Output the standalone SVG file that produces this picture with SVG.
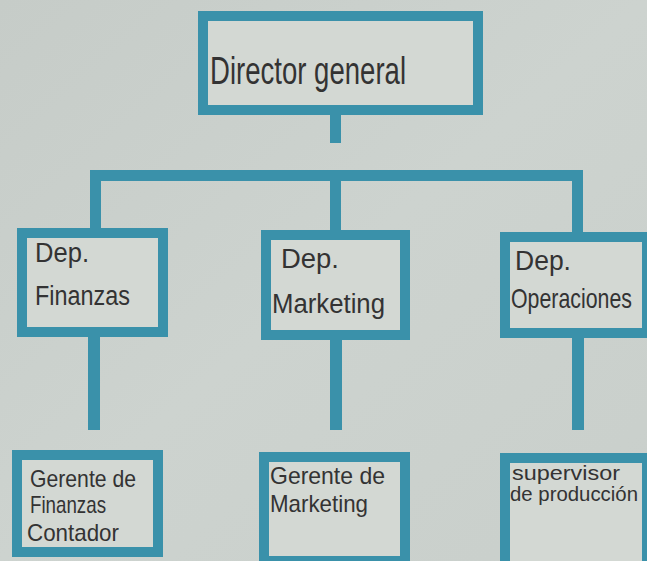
<svg xmlns="http://www.w3.org/2000/svg" width="647" height="561" viewBox="0 0 647 561">
<defs>
<linearGradient id="paper" x1="0" y1="0" x2="1" y2="1">
<stop offset="0" stop-color="#c6ccc8"/>
<stop offset="0.5" stop-color="#cdd3cf"/>
<stop offset="1" stop-color="#c9cfcb"/>
</linearGradient>
</defs>
<style>
.box{fill:#d3d8d3;stroke:#3a91aa;stroke-width:10}
.line{fill:#3a91aa}
text{font-family:"Liberation Sans Narrow","Liberation Sans",Arial,sans-serif;fill:#333;font-weight:normal}
.big{font-size:38px}
.mid{font-size:27px}
.sm{font-size:24px}
.xs{font-size:21px}
</style>
<rect width="647" height="561" fill="url(#paper)"/>
<g id="connectors">
<rect class="line" x="330" y="112" width="11" height="31"/>
<rect class="line" x="90" y="170" width="493" height="11"/>
<rect class="line" x="90" y="170" width="11" height="60"/>
<rect class="line" x="330" y="170" width="11" height="62"/>
<rect class="line" x="572" y="170" width="11" height="64"/>
<rect class="line" x="88" y="335" width="12" height="95"/>
<rect class="line" x="330" y="338" width="12" height="92"/>
<rect class="line" x="572" y="336" width="12" height="94"/>
</g>
<g id="director">
<rect class="box" x="203" y="16" width="275" height="94"/>
<text class="big" x="210" y="84" textLength="196" lengthAdjust="spacingAndGlyphs">Director general</text>
</g>
<g id="dep-finanzas">
<rect class="box" x="22" y="233" width="141" height="99"/>
<text class="mid" x="35" y="262" textLength="54" lengthAdjust="spacingAndGlyphs">Dep.</text>
<text class="mid" x="35" y="305" textLength="95" lengthAdjust="spacingAndGlyphs">Finanzas</text>
</g>
<g id="dep-marketing">
<rect class="box" x="266" y="235" width="139" height="100"/>
<text class="mid" x="281" y="268" textLength="58" lengthAdjust="spacingAndGlyphs">Dep.</text>
<text class="mid" x="272" y="313" textLength="113" lengthAdjust="spacingAndGlyphs">Marketing</text>
</g>
<g id="dep-operaciones">
<rect class="box" x="505" y="237" width="142" height="96"/>
<text class="mid" x="515" y="270" textLength="56" lengthAdjust="spacingAndGlyphs">Dep.</text>
<text class="mid" transform="translate(511,308) scale(0.79,1)" x="0" y="0">Operaciones</text>
</g>
<g id="gerente-finanzas">
<rect class="box" x="17" y="455" width="141" height="97"/>
<text class="sm" x="30" y="487" textLength="106" lengthAdjust="spacingAndGlyphs">Gerente de</text>
<text class="sm" x="30" y="513" textLength="76" lengthAdjust="spacingAndGlyphs">Finanzas</text>
<text class="sm" x="27" y="541" textLength="92" lengthAdjust="spacingAndGlyphs">Contador</text>
</g>
<g id="gerente-marketing">
<rect class="box" x="264" y="457" width="141" height="104"/>
<text class="sm" x="270" y="484" textLength="115" lengthAdjust="spacingAndGlyphs">Gerente de</text>
<text class="sm" x="270" y="512" textLength="98" lengthAdjust="spacingAndGlyphs">Marketing</text>
</g>
<g id="supervisor">
<rect class="box" x="505" y="458" width="142" height="108"/>
<text class="xs" x="512" y="480" textLength="108" lengthAdjust="spacingAndGlyphs">supervisor</text>
<text class="xs" x="510" y="501" textLength="128" lengthAdjust="spacingAndGlyphs">de producción</text>
</g>
</svg>
